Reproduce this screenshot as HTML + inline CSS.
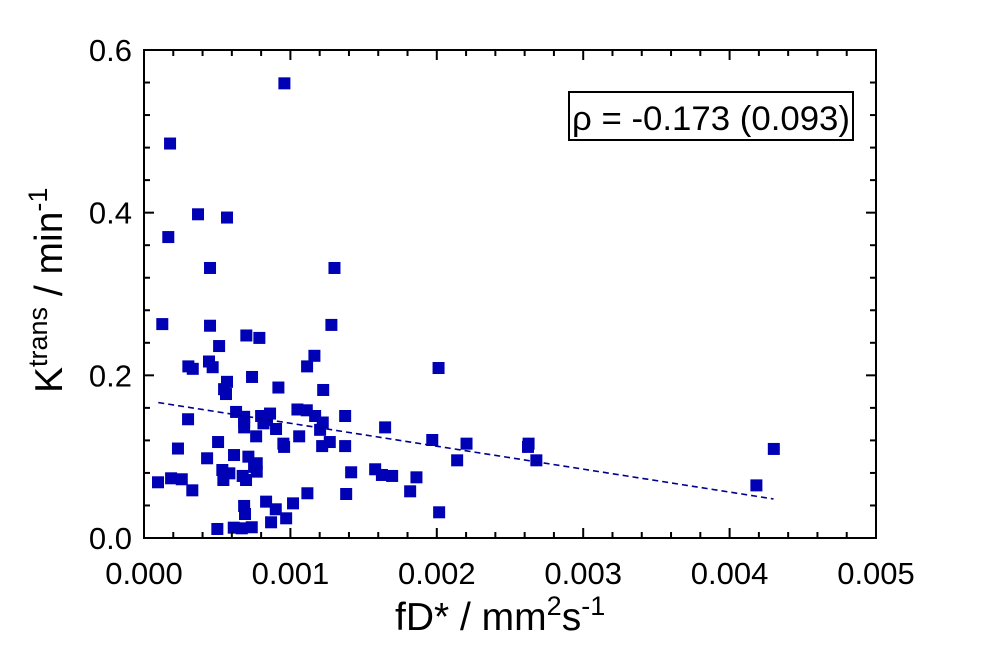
<!DOCTYPE html>
<html><head><meta charset="utf-8"><style>
html,body{margin:0;padding:0;background:#fff;}
svg{display:block;font-family:"Liberation Sans",Arial,sans-serif;}
</style></head><body>
<svg id="chart" width="984" height="650" viewBox="0 0 984 650" xmlns="http://www.w3.org/2000/svg">
<g id="grid"></g>
<g id="marks"></g>
<rect x="144" y="50" width="732" height="488" fill="none" stroke="#000" stroke-width="2"/>
<g id="ticks"></g>
<text x="395" y="630" font-size="39">fD* / mm<tspan dy="-15" font-size="27">2</tspan><tspan dy="15">s</tspan><tspan dy="-15" font-size="27">-1</tspan></text>
<text transform="translate(62,393) rotate(-90)" font-size="39">K<tspan dy="-15" font-size="27">trans</tspan><tspan dy="15"> / min</tspan><tspan dy="-15" font-size="27">-1</tspan></text>
<g>
<rect x="569" y="92" width="284" height="48" fill="#fff" stroke="#000" stroke-width="2"/>
<text x="572" y="130" font-size="34" textLength="278" lengthAdjust="spacingAndGlyphs">ρ = -0.173 (0.093)</text>
</g>
</svg>
<script>
const xs=[0.000959,0.000178,0.000369,0.000567,0.000166,0.000451,0.001301,0.000125,0.000451,0.00128,0.000699,0.000788,0.000513,0.000444,0.000469,0.000303,0.000333,0.001164,0.001114,0.002012,0.000738,0.000567,0.000547,0.00056,0.000918,0.001224,0.0000957,0.000185,0.000258,0.00033,0.000232,0.000301,0.000506,0.000431,0.000615,0.000629,0.000684,0.000684,0.000684,0.0008,0.000861,0.000816,0.00084,0.000902,0.000766,0.001048,0.001112,0.001169,0.001221,0.001203,0.00106,0.000952,0.000957,0.001217,0.001269,0.001374,0.001374,0.001647,0.001969,0.002203,0.002139,0.001415,0.001579,0.001625,0.001695,0.001861,0.001818,0.001381,0.001116,0.001018,0.000834,0.0009,0.000971,0.000868,0.000684,0.00069,0.000501,0.000613,0.000668,0.000736,0.002016,0.000535,0.000583,0.000542,0.000674,0.000697,0.000713,0.00077,0.00077,0.000752,0.002627,0.002623,0.00268,0.004183,0.004302];
const ys=[0.559,0.485,0.398,0.394,0.370,0.332,0.332,0.263,0.261,0.262,0.249,0.246,0.236,0.217,0.210,0.211,0.208,0.224,0.211,0.209,0.198,0.192,0.183,0.177,0.185,0.182,0.0685,0.0734,0.0722,0.0586,0.110,0.146,0.118,0.098,0.102,0.155,0.149,0.143,0.136,0.150,0.153,0.141,0.145,0.134,0.125,0.158,0.157,0.150,0.142,0.133,0.125,0.116,0.112,0.113,0.118,0.150,0.113,0.136,0.1205,0.116,0.0955,0.0808,0.0845,0.0775,0.0763,0.0746,0.0574,0.0541,0.055,0.0426,0.0447,0.0353,0.0242,0.0193,0.0394,0.0295,0.0111,0.0127,0.0119,0.0132,0.0316,0.0836,0.0795,0.0713,0.0763,0.0713,0.100,0.0919,0.0816,0.0875,0.116,0.112,0.0955,0.0647,0.1095];
const trendX=[0.0000977,0.0043];
const trendY=[0.1665,0.048];
const xTickVals=[0,0.001,0.002,0.003,0.004,0.005];
const xTickLabels=["0.000","0.001","0.002","0.003","0.004","0.005"];
const yTickVals=[0,0.2,0.4,0.6];
const yTickLabels=["0.0","0.2","0.4","0.6"];
const X0=144,X1=876,Y0=538,Y1=50;
function sx(v){return X0+(v-0)/0.005*(X1-X0);}
function sy(v){return Y0-(v-0)/0.6*(Y0-Y1);}
const NS="http://www.w3.org/2000/svg";
function mk(tag,attrs,parent){const e=document.createElementNS(NS,tag);for(const k in attrs)e.setAttribute(k,attrs[k]);parent.appendChild(e);return e;}
const marks=document.getElementById('marks'),ticks=document.getElementById('ticks');
for(let i=0;i<xs.length;i++){
 const r=mk('rect',{x:sx(xs[i])-6,y:sy(ys[i])-6,width:12,height:12,fill:'#0000b4'},marks);
 
 
}
const tl=mk('line',{x1:sx(trendX[0]),y1:sy(trendY[0]),x2:sx(trendX[1]),y2:sy(trendY[1]),stroke:'#000090','stroke-width':1.6,'stroke-dasharray':'6,4'},marks);


// minor/major ticks x
for(let k=0;k<=25;k++){
 const v=k*0.0002,x=sx(v),len=(k%5===0)?10:6;
 mk('line',{x1:x,y1:Y0,x2:x,y2:Y0-len,stroke:'#000','stroke-width':2},ticks);
 mk('line',{x1:x,y1:Y1,x2:x,y2:Y1+len,stroke:'#000','stroke-width':2},ticks);
}
for(let k=0;k<=15;k++){
 const v=k*0.04,y=sy(v),len=(k%5===0)?10:6;
 mk('line',{x1:X0,y1:y,x2:X0+len,y2:y,stroke:'#000','stroke-width':2},ticks);
 mk('line',{x1:X1,y1:y,x2:X1-len,y2:y,stroke:'#000','stroke-width':2},ticks);
}
for(let i=0;i<xTickVals.length;i++){
 const t=mk('text',{x:sx(xTickVals[i]),y:584,'font-size':31,'text-anchor':'middle'},ticks);
 t.textContent=xTickLabels[i];
 
 
}
for(let i=0;i<yTickVals.length;i++){
 const t=mk('text',{x:132,y:sy(yTickVals[i])+11,'font-size':31,'text-anchor':'end'},ticks);
 t.textContent=yTickLabels[i];
 
 
}
</script>
</body></html>
